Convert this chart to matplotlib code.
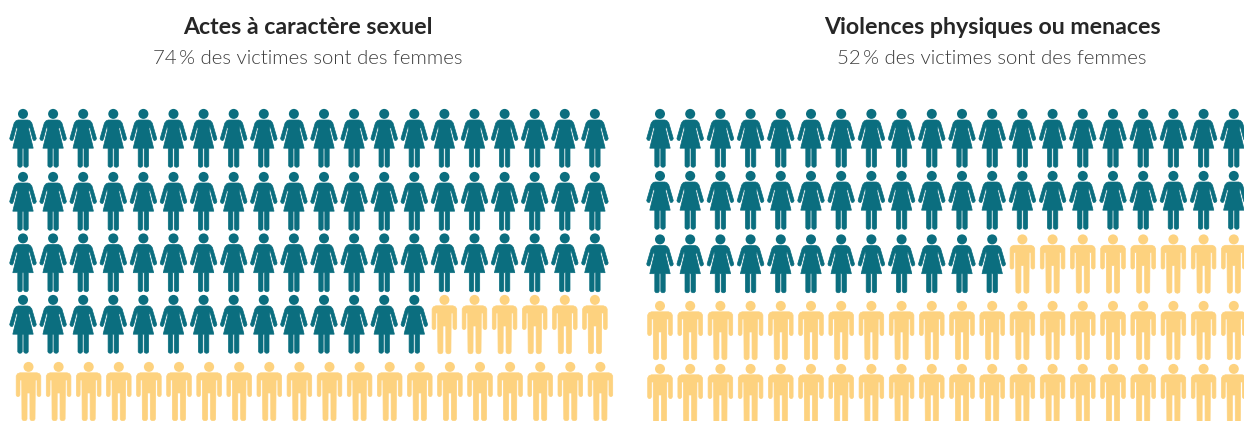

import matplotlib
matplotlib.use("Agg")
import matplotlib.pyplot as plt
from matplotlib.path import Path
from matplotlib.patches import PathPatch, Circle
from matplotlib.transforms import Affine2D

# Panel contents
titles = ["Actes à caractère sexuel", "Violences physiques ou menaces"]
subtitles = ["74\u2009% des victimes sont des femmes", "52\u2009% des victimes sont des femmes"]
women_counts = [74, 52]
total_people = 100
columns = 20

TEAL = "#0b6e7f"
SAND = "#fdd27f"

W, H = 1244, 421
fig = plt.figure(figsize=(W / 100, H / 100), dpi=100, facecolor="white")
ax = fig.add_axes([0, 0, 1, 1])
ax.set_xlim(0, W)
ax.set_ylim(H, 0)
ax.axis("off")

# Right half of each icon in pixels (x from the centre line, y down from the head top)
WOMAN_HALF = [(0, 11), (5, 11), (7, 11.8), (8.8, 14), (13.3, 29.5), (12.6, 31), (10.8, 31.6),
              (9.8, 30), (6.9, 19), (6.2, 17.5), (5.6, 20), (10.2, 39.2), (5.2, 39.2),
              (5.2, 56.8), (4.4, 57.9), (3, 58.3), (1.6, 57.9), (0.8, 56.8), (0.8, 39.2), (0, 39.2)]
MAN_HALF = [(0, 10.8), (8.5, 10.8), (11, 11.8), (12.3, 14), (12.3, 33), (11.6, 34.2), (10.5, 34.6),
            (9.4, 34.2), (8.6, 33), (8.5, 18), (6.8, 18), (6.5, 57), (5.8, 58.2), (4, 58.8),
            (2.2, 58.2), (1.5, 57), (1.4, 31), (0, 31)]


def mirrored(half):
    left = [(-x, y) for x, y in reversed(half) if x != 0]
    return half + left


WOMAN = mirrored(WOMAN_HALF)
MAN = mirrored(MAN_HALF)


def draw_person(x, y, outline, colour):
    ax.add_patch(PathPatch(Path(outline + [outline[0]], closed=True), fc=colour, ec=colour, lw=0.5,
                           transform=Affine2D().translate(x, y) + ax.transData))
    ax.add_patch(Circle((x, y + 4.9), 5.0, fc=colour, ec="none"))


left_x = [23, 660]
step_x = [30.1, 30.2]
row_tops = [[109, 172, 233.5, 295, 362], [109, 171, 234.5, 301, 364]]
centre_x = [307.5, 992]

for p in range(2):
    ax.text(centre_x[p], 27, titles[p], ha="center", va="center", fontsize=16.7,
            fontweight="bold", color="#262626", family="Lato")
    ax.text(centre_x[p], 59, subtitles[p], ha="center", va="center", fontsize=14.7,
            fontweight=300, color="#3c3c3c", family=["Lato", "DejaVu Sans"])
    for i in range(total_people):
        r, c = divmod(i, columns)
        is_woman = i < women_counts[p]
        shift = 5.5 if (p == 0 and r == 4) else 0
        x = left_x[p] + step_x[p] * c + shift
        draw_person(x, row_tops[p][r], WOMAN if is_woman else MAN, TEAL if is_woman else SAND)

fig.savefig("out.png", dpi=100, facecolor="white")
